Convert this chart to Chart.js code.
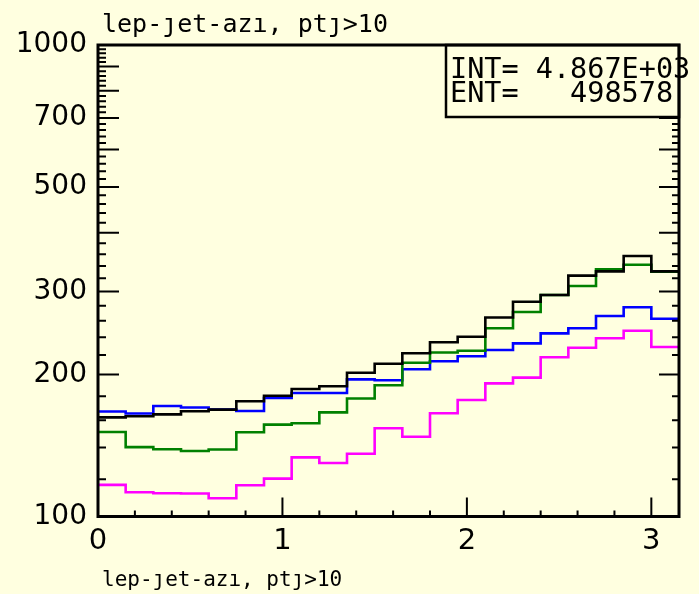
<!DOCTYPE html>
<html>
<head>
<meta charset="utf-8">
<script src="https://cdn.jsdelivr.net/npm/chart.js@4"></script>
<style>
  html, body { margin: 0; padding: 0; background: #ffffe0; }
  canvas { display: block; }
</style>
</head>
<body>
<canvas id="c" width="699" height="594"></canvas>
<script>
// Histogram bin edges (lep-jet azimuth, 0.15 wide bins)
const binEdges = [0, 0.15, 0.3, 0.45, 0.6, 0.75, 0.9, 1.05, 1.2, 1.35, 1.5,
                  1.65, 1.8, 1.95, 2.1, 2.25, 2.4, 2.55, 2.7, 2.85, 3.0, 3.15];

// Bin contents for each histogram
const blackCounts = [162.3, 163.2, 164.7, 167.2, 168.5, 175.6, 180.4, 186.4, 188.9, 201.8, 210.9,
                     221.9, 234.2, 240.5, 264.3, 285.5, 295.0, 324.2, 331.1, 356.9, 331.1];
const greenCounts = [151.1, 140.3, 138.9, 137.7, 138.7, 150.9, 156.6, 157.7, 166.3, 178.0, 189.8,
                     211.9, 222.8, 224.7, 250.7, 271.5, 295.0, 308.3, 334.5, 342.0, 330.5];
const blueCounts  = [167.0, 165.4, 171.5, 170.3, 168.5, 167.4, 178.4, 182.8, 182.8, 195.4, 194.5,
                     205.2, 213.4, 218.7, 225.5, 232.9, 244.6, 250.7, 266.2, 277.8, 262.7];
const magentaCounts = [116.7, 112.6, 112.0, 111.9, 109.3, 116.5, 120.3, 133.5, 129.9, 135.9, 153.9,
                       147.6, 165.6, 176.7, 191.6, 197.0, 217.6, 228.0, 238.8, 247.8, 228.8];

// Axis labels and tick marks
const yLabelValues = [100, 200, 300, 500, 700, 1000];
const yMajorTicks = [100, 200, 300, 400, 500, 600, 700, 800, 900, 1000];
const yMinorTicks = [];
for (let v = 120; v < 1000; v += 20) if (v % 100 !== 0) yMinorTicks.push(v);
const xLabelValues = [0, 1, 2, 3];
const xMinorTicks = [0.2, 0.4, 0.6, 0.8, 1.2, 1.4, 1.6, 1.8, 2.2, 2.4, 2.6, 2.8, 3.0];

const titleText = 'lep-ȷet-azı, ptȷ>10';
const statLines = ['INT= 4.867E+03', 'ENT=   498578'];

const BG = '#ffffe0';

// Each bin is drawn as a flat segment from its left edge to its right edge
function stepPoints(counts) {
  const pts = counts.map((c, i) => ({ x: binEdges[i], y: c }));
  pts.push({ x: binEdges[binEdges.length - 1], y: counts[counts.length - 1] });
  return pts;
}

function series(counts, color) {
  return {
    data: stepPoints(counts),
    borderColor: color,
    borderWidth: 2.6,
    stepped: 'before',
    pointRadius: 0,
    fill: false,
    tension: 0
  };
}

// Background, frame, inward tick marks, statistics box and titles
const framePlugin = {
  id: 'frame',
  beforeDraw(chart) {
    const ctx = chart.ctx;
    ctx.save();
    ctx.fillStyle = BG;
    ctx.fillRect(0, 0, chart.width, chart.height);
    ctx.restore();
  },
  afterDatasetsDraw(chart) {
    const { ctx, chartArea: a, scales: { x, y } } = chart;
    ctx.save();
    ctx.strokeStyle = '#000';
    ctx.lineCap = 'butt';

    // y ticks on left and right, pointing inward
    ctx.lineWidth = 2;
    ctx.beginPath();
    yMinorTicks.forEach(v => {
      const p = y.getPixelForValue(v);
      ctx.moveTo(a.left, p); ctx.lineTo(a.left + 8, p);
      ctx.moveTo(a.right, p); ctx.lineTo(a.right - 7, p);
    });
    yMajorTicks.forEach(v => {
      const p = y.getPixelForValue(v);
      ctx.moveTo(a.left, p); ctx.lineTo(a.left + 21, p);
      ctx.moveTo(a.right, p); ctx.lineTo(a.right - 20, p);
    });
    // x ticks along the bottom
    xMinorTicks.forEach(v => {
      const p = x.getPixelForValue(v);
      ctx.moveTo(p, a.bottom); ctx.lineTo(p, a.bottom - 6);
    });
    xLabelValues.forEach(v => {
      const p = x.getPixelForValue(v);
      ctx.moveTo(p, a.bottom); ctx.lineTo(p, a.bottom - 19);
    });
    ctx.stroke();

    // statistics box
    const bx = a.right - 233, by = a.top, bh = 72;
    ctx.fillStyle = BG;
    ctx.fillRect(bx, by, a.right - bx, bh);
    ctx.lineWidth = 2.5;
    ctx.strokeRect(bx, by, a.right - bx, bh);
    ctx.fillStyle = '#000';
    ctx.font = '28.5px "DejaVu Sans Mono"';
    ctx.textAlign = 'left';
    ctx.textBaseline = 'alphabetic';
    ctx.fillText(statLines[0], bx + 4, by + 33);
    ctx.fillText(statLines[1], bx + 4, by + 56.5);

    // plot frame
    ctx.lineWidth = 3;
    ctx.strokeRect(a.left, a.top, a.right - a.left, a.bottom - a.top);

    // histogram title and x-axis title
    ctx.font = '25px "DejaVu Sans Mono"';
    ctx.fillText(titleText, a.left + 4, 32);
    ctx.font = '21px "DejaVu Sans Mono"';
    ctx.fillText(titleText, a.left + 4, 586);
    ctx.restore();
  }
};

new Chart(document.getElementById('c'), {
  type: 'line',
  data: {
    datasets: [
      series(blackCounts, '#000000'),
      series(greenCounts, '#008000'),
      series(blueCounts, '#0000ff'),
      series(magentaCounts, '#ff00ff')
    ]
  },
  options: {
    responsive: false,
    animation: false,
    devicePixelRatio: 1,
    layout: { padding: { left: 0, right: 20, top: 45, bottom: 0 } },
    plugins: { legend: { display: false }, tooltip: { enabled: false }, title: { display: false } },
    scales: {
      x: {
        type: 'linear',
        min: 0,
        max: 3.15,
        grid: { display: false, drawTicks: false },
        border: { display: false },
        afterBuildTicks: s => { s.ticks = xLabelValues.map(v => ({ value: v })); },
        afterFit: s => { s.height = 77.5; },
        ticks: {
          padding: 10,
          maxRotation: 0,
          color: '#000',
          font: { family: 'DejaVu Sans', size: 29, lineHeight: 1 },
          callback: v => String(v)
        }
      },
      y: {
        type: 'logarithmic',
        min: 100,
        max: 1000,
        grid: { display: false, drawTicks: false },
        border: { display: false },
        afterBuildTicks: s => { s.ticks = yLabelValues.map(v => ({ value: v })); },
        afterFit: s => { s.width = 98; },
        ticks: {
          padding: 11,
          color: '#000',
          font: { family: 'DejaVu Sans', size: 28, lineHeight: 1 },
          callback: v => String(v)
        }
      }
    }
  },
  plugins: [framePlugin]
});
</script>
</body>
</html>
